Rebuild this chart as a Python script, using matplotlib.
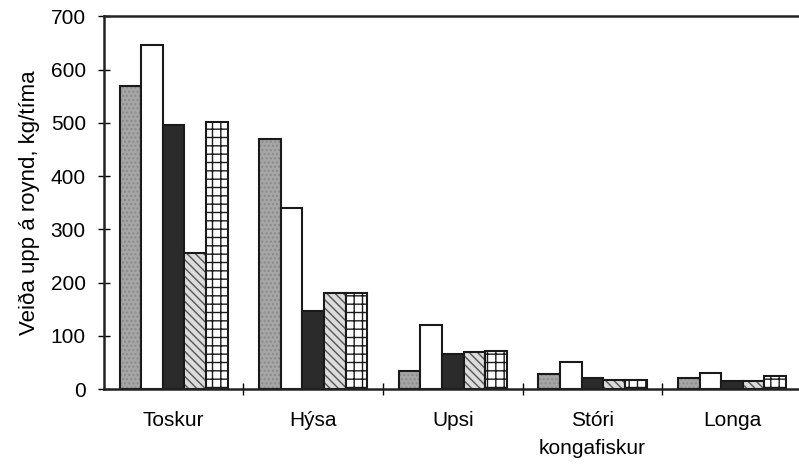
import numpy as np
import matplotlib.pyplot as plt

plt.rcParams['font.family'] = ['Liberation Sans', 'DejaVu Sans']
plt.rcParams['hatch.linewidth'] = 1.0

categories = ["Toskur", "Hýsa", "Upsi", "Stóri\nkongafiskur", "Longa"]
s1 = [570, 470, 34, 28, 20]
s2 = [646, 341, 120, 51, 30]
s3 = [495, 147, 66, 21, 15]
s4 = [256, 181, 69, 17, 16]
s5 = [501, 181, 72, 17, 25]

series = [s1, s2, s3, s4, s5]
faces = ['#a6a6a6', 'white', '#2b2b2b', '#dcdcdc', 'white']
hatches = ['....', None, None, '\\\\\\\\', '++']
hatch_cols = ['#8a8a8a', None, None, '#555555', '#1a1a1a']

fig = plt.figure(figsize=(7.99, 4.66), dpi=100)
ax = fig.add_axes([0.130, 0.165, 0.870, 0.800])

x = np.arange(len(categories))
w = 0.155
for i, vals in enumerate(series):
    pos = x + (i - 2) * w
    if hatches[i]:
        # hatch layer first, then the outline on top
        ax.bar(pos, vals, width=w, color=faces[i], edgecolor=hatch_cols[i],
               linewidth=0, hatch=hatches[i])
        ax.bar(pos, vals, width=w, facecolor='none', edgecolor='#1a1a1a', linewidth=1.5)
    else:
        ax.bar(pos, vals, width=w, color=faces[i], edgecolor='#1a1a1a', linewidth=1.5)

ax.set_ylim(0, 700)
ax.set_xlim(-0.5, 4.48)
ax.set_yticks(range(0, 701, 100))
ax.set_xticks(x)
ax.set_xticklabels(categories, fontsize=15, linespacing=1.6)
ax.set_xticks(np.arange(0.5, 4.5, 1), minor=True)
ax.tick_params(axis='x', which='major', length=0, pad=16)
ax.tick_params(axis='x', which='minor', direction='inout', length=8, width=1)
ax.tick_params(axis='y', direction='inout', length=8, width=1, labelsize=15, pad=9)
ax.set_ylabel("Veiða upp á roynd, kg/tíma", fontsize=16, labelpad=8)

for side in ['left', 'bottom', 'top']:
    ax.spines[side].set_linewidth(1.8)
    ax.spines[side].set_color('#222222')
ax.spines['right'].set_visible(False)

fig.savefig("out.png", dpi=100)
